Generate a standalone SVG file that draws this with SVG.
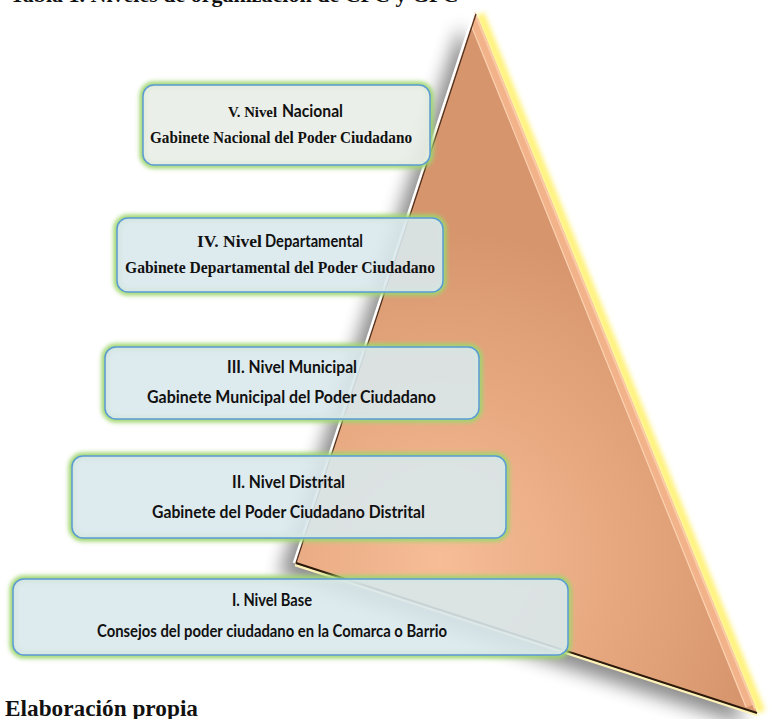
<svg xmlns="http://www.w3.org/2000/svg" width="770" height="719" viewBox="0 0 770 719">
<style>
.tm{font-family:"Liberation Serif","Times New Roman",serif;font-weight:bold;fill:#111;}
.sn{font-family:"Lato","Liberation Sans",sans-serif;font-weight:bold;fill:#111;font-size:16.5px;}
.box{stroke:#5b9bd5;stroke-width:1.5;fill-opacity:0.9;}
.glow{fill:none;stroke:#9fd66e;stroke-width:7;filter:url(#blur2);}
</style>
<defs>
<filter id="blur2" x="-10%" y="-30%" width="120%" height="160%"><feGaussianBlur stdDeviation="2"/></filter>
<filter id="shadow" x="-30%" y="-30%" width="160%" height="160%"><feGaussianBlur stdDeviation="9"/></filter>
<filter id="yblur" x="-30%" y="-30%" width="160%" height="160%"><feGaussianBlur stdDeviation="2.5"/></filter>
<radialGradient id="triFill" gradientUnits="userSpaceOnUse" cx="440" cy="560" r="330">
<stop offset="0" stop-color="#f6bd97"/>
<stop offset="0.5" stop-color="#e8a981"/>
<stop offset="1" stop-color="#d6956d"/>
</radialGradient>
</defs>
<rect width="770" height="719" fill="#fff"/>
<text class="tm" x="10" y="1.7" font-size="22">Tabla 1. Niveles de organización de CPC y GPC</text>
<g id="pyramid">
<polygon points="460,26 279,575 745,725" fill="#000" opacity="0.45" filter="url(#shadow)"/>
<line x1="480" y1="14" x2="761" y2="712" stroke="#fff27a" stroke-width="9" filter="url(#yblur)"/>
<polygon points="475,12 295,563 757,713" fill="url(#triFill)"/>
<line x1="474" y1="20" x2="750" y2="706" stroke="#f2b38a" stroke-width="9"/>
<line x1="471" y1="25" x2="746" y2="707" stroke="#fbd2b2" stroke-width="1.2"/>
<line x1="476" y1="16" x2="755" y2="709" stroke="#fbcaa6" stroke-width="2"/>
<line x1="474" y1="13" x2="294" y2="563" stroke="#fff" stroke-width="2.5"/>
<line x1="476" y1="14" x2="296" y2="563" stroke="#4a3020" stroke-width="1.2"/>
<line x1="295" y1="565" x2="757" y2="715" stroke="#fff2b8" stroke-width="2.5"/>
<line x1="296" y1="563" x2="757" y2="713" stroke="#2b1a0c" stroke-width="2"/>
</g>
<g id="nivel-5">
<rect class="glow" x="143" y="85" width="287" height="80" rx="11"/>
<rect class="box" x="143" y="85" width="287" height="80" rx="11" fill="#e9ede7"/>
<text class="tm" x="228" y="117" font-size="14" textLength="49" lengthAdjust="spacingAndGlyphs">V. Nivel</text>
<text class="sn" x="282" y="117" textLength="61" lengthAdjust="spacingAndGlyphs">Nacional</text>
<text class="tm" x="281" y="143" font-size="17" text-anchor="middle" textLength="262" lengthAdjust="spacingAndGlyphs">Gabinete Nacional del Poder Ciudadano</text>
</g>
<g id="nivel-4">
<rect class="glow" x="117" y="218" width="326" height="74" rx="11"/>
<rect class="box" x="117" y="218" width="326" height="74" rx="11" fill="#d9e8ec"/>
<text class="tm" x="197" y="247" font-size="17" textLength="65" lengthAdjust="spacingAndGlyphs">IV. Nivel</text>
<text class="sn" x="265" y="247" textLength="98" lengthAdjust="spacingAndGlyphs">Departamental</text>
<text class="tm" x="280" y="273" font-size="17" text-anchor="middle" textLength="310" lengthAdjust="spacingAndGlyphs">Gabinete Departamental del Poder Ciudadano</text>
</g>
<g id="nivel-3">
<rect class="glow" x="105" y="347" width="374" height="72" rx="11"/>
<rect class="box" x="105" y="347" width="374" height="72" rx="11" fill="#d9e8ec"/>
<text class="sn" x="292" y="373" text-anchor="middle" textLength="130" lengthAdjust="spacingAndGlyphs">III. Nivel Municipal</text>
<text class="sn" x="291.5" y="403" text-anchor="middle" textLength="289" lengthAdjust="spacingAndGlyphs">Gabinete Municipal del Poder Ciudadano</text>
</g>
<g id="nivel-2">
<rect class="glow" x="72" y="456" width="434" height="82" rx="11"/>
<rect class="box" x="72" y="456" width="434" height="82" rx="11" fill="#d9e8ec"/>
<text class="sn" x="288.5" y="488" text-anchor="middle" textLength="113" lengthAdjust="spacingAndGlyphs">II. Nivel Distrital</text>
<text class="sn" x="288.5" y="518" text-anchor="middle" textLength="273" lengthAdjust="spacingAndGlyphs">Gabinete del Poder Ciudadano Distrital</text>
</g>
<g id="nivel-1">
<rect class="glow" x="13" y="579" width="555" height="76" rx="11"/>
<rect class="box" x="13" y="579" width="555" height="76" rx="11" fill="#d9e8ec"/>
<text class="sn" x="272" y="606" text-anchor="middle" textLength="80" lengthAdjust="spacingAndGlyphs">I. Nivel Base</text>
<text class="sn" x="272" y="637" text-anchor="middle" textLength="350" lengthAdjust="spacingAndGlyphs">Consejos del poder ciudadano en la Comarca o Barrio</text>
</g>
<text class="tm" x="5" y="716" font-size="24" textLength="193" lengthAdjust="spacingAndGlyphs">Elaboración propia</text>
</svg>
